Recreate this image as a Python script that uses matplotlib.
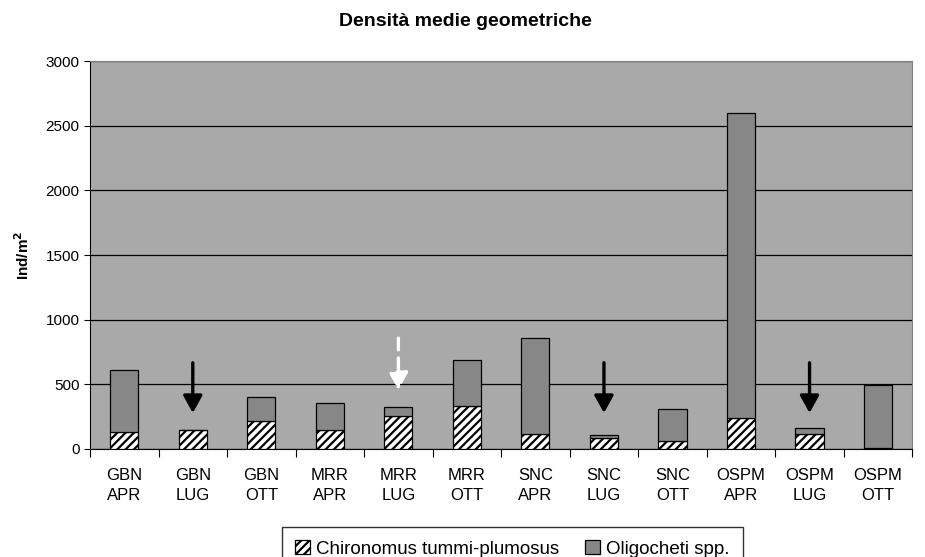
import matplotlib.pyplot as plt
import numpy as np

plt.rcParams['font.family'] = ['Liberation Sans', 'DejaVu Sans']
plt.rcParams['hatch.linewidth'] = 1.6

sites = ["GBN", "GBN", "GBN", "MRR", "MRR", "MRR", "SNC", "SNC", "SNC", "OSPM", "OSPM", "OSPM"]
months = ["APR", "LUG", "OTT"] * 4
chironomus = [130, 145, 217, 147, 253, 330, 118, 85, 60, 237, 116, 10]
totals = [612, 145, 400, 353, 325, 690, 862, 106, 309, 2600, 165, 495]
oligocheti = [t - c for t, c in zip(totals, chironomus)]

# arrows: (category index, start, end, colour, dashed)
arrows = [(1, 667, 278, "black", False), (4, 858, 456, "white", True),
          (7, 667, 278, "black", False), (10, 667, 278, "black", False)]

fig = plt.figure(figsize=(9.25, 5.57), dpi=100)
ax = fig.add_axes([0.0973, 0.194, 0.889, 0.696])
ax.set_facecolor("#a9a9a9")

x = np.arange(len(sites))
w = 0.41
ax.bar(x, chironomus, w, color="white", edgecolor="black", hatch="////",
       linewidth=0.9, label="Chironomus tummi-plumosus", zorder=3)
ax.bar(x, oligocheti, w, bottom=chironomus, color="#878787", edgecolor="black",
       linewidth=0.9, label="Oligocheti spp.", zorder=3)

for i, y0, y1, col, dashed in arrows:
    ax.annotate("", xy=(i, y1), xytext=(i, y0), zorder=4,
                arrowprops=dict(arrowstyle="-|>,head_width=0.58,head_length=1.05",
                                mutation_scale=10, shrinkA=0, shrinkB=0,
                                color=col, lw=2.4,
                                linestyle=(0, (3.5, 2.5)) if dashed else "-"))

ax.set_ylim(0, 3000)
ax.set_xlim(-0.5, len(sites) - 0.5)
ax.set_yticks(np.arange(0, 3001, 500))
ax.yaxis.grid(True, color="black", linewidth=0.9)
ax.set_axisbelow(True)
ax.tick_params(axis="y", labelsize=11, length=4)

ax.set_xticks(np.arange(-0.5, len(sites)), labels=[""] * (len(sites) + 1))
ax.set_xticks(x, labels=[f"{s}\n{m}" for s, m in zip(sites, months)], minor=True)
ax.tick_params(axis="x", which="major", length=6)
ax.tick_params(axis="x", which="minor", length=0, labelsize=12, pad=14)
for lbl in ax.get_xticklabels(minor=True):
    lbl.set_linespacing(1.35)

for side in ["top", "right"]:
    ax.spines[side].set_color("#808080")
for side in ["left", "bottom"]:
    ax.spines[side].set_color("black")

ax.set_ylabel(r"Ind/m$^\mathbf{2}$", fontsize=11, fontweight="bold", labelpad=10)
fig.text(0.503, 0.962, "Densità medie geometriche", ha="center", va="center",
         fontsize=14, fontweight="bold")

fig.legend(loc="upper center", bbox_to_anchor=(0.554, 0.054), ncol=2,
           fontsize=13.5, frameon=True, fancybox=False, edgecolor="black",
           handlelength=0.8, handleheight=0.8, handletextpad=0.3,
           columnspacing=1.4, borderpad=0.7, borderaxespad=0)

fig.savefig("out.png", dpi=100)
